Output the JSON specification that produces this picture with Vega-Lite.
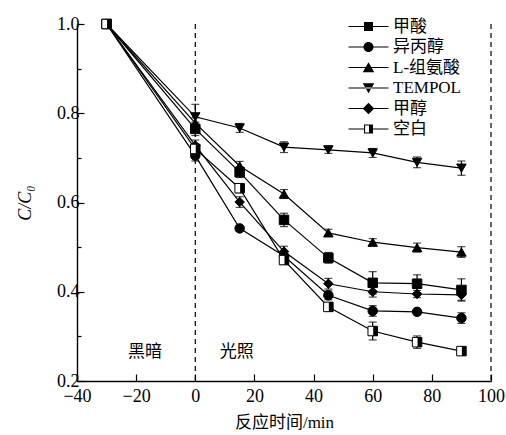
{
  "$schema": "https://vega.github.io/schema/vega-lite/v6.json",
  "width": 414,
  "height": 357,
  "autosize": "none",
  "padding": {"left": 77, "top": 24, "right": 15, "bottom": 54},
  "background": "white",
  "config": {
    "view": {"stroke": null},
    "font": "Liberation Serif, Noto Sans CJK SC",
    "axis": {"grid": false, "domainColor": "black", "domainWidth": 1.4, "tickColor": "black", "tickWidth": 1.2, "labelColor": "black", "titleColor": "black", "labelFont": "Liberation Serif", "labelFontSize": 18, "titleFont": "Liberation Serif, Noto Sans CJK SC", "titleFontWeight": "normal", "titleFontSize": 17}
  },
  "datasets": {
    "pts": [
      {"s": "甲酸", "t": -30, "v": 1.0, "e": 0.006},
      {"s": "甲酸", "t": 0, "v": 0.765, "e": 0.015},
      {"s": "甲酸", "t": 15, "v": 0.668, "e": 0.012},
      {"s": "甲酸", "t": 30, "v": 0.561, "e": 0.015},
      {"s": "甲酸", "t": 45, "v": 0.476, "e": 0.012},
      {"s": "甲酸", "t": 60, "v": 0.42, "e": 0.025},
      {"s": "甲酸", "t": 75, "v": 0.418, "e": 0.02},
      {"s": "甲酸", "t": 90, "v": 0.404, "e": 0.025},
      {"s": "异丙醇", "t": -30, "v": 1.0, "e": 0.006},
      {"s": "异丙醇", "t": 0, "v": 0.705, "e": 0.012},
      {"s": "异丙醇", "t": 15, "v": 0.542, "e": 0.006},
      {"s": "异丙醇", "t": 30, "v": 0.48, "e": 0.01},
      {"s": "异丙醇", "t": 45, "v": 0.392, "e": 0.01},
      {"s": "异丙醇", "t": 60, "v": 0.357, "e": 0.012},
      {"s": "异丙醇", "t": 75, "v": 0.355, "e": 0.006},
      {"s": "异丙醇", "t": 90, "v": 0.341, "e": 0.012},
      {"s": "L-组氨酸", "t": -30, "v": 1.0, "e": 0.006},
      {"s": "L-组氨酸", "t": 0, "v": 0.778, "e": 0.012},
      {"s": "L-组氨酸", "t": 15, "v": 0.682, "e": 0.01},
      {"s": "L-组氨酸", "t": 30, "v": 0.619, "e": 0.01},
      {"s": "L-组氨酸", "t": 45, "v": 0.532, "e": 0.008},
      {"s": "L-组氨酸", "t": 60, "v": 0.511, "e": 0.008},
      {"s": "L-组氨酸", "t": 75, "v": 0.499, "e": 0.01},
      {"s": "L-组氨酸", "t": 90, "v": 0.489, "e": 0.012},
      {"s": "TEMPOL", "t": -30, "v": 1.0, "e": 0.006},
      {"s": "TEMPOL", "t": 0, "v": 0.792, "e": 0.028},
      {"s": "TEMPOL", "t": 15, "v": 0.767, "e": 0.01},
      {"s": "TEMPOL", "t": 30, "v": 0.724, "e": 0.012},
      {"s": "TEMPOL", "t": 45, "v": 0.718, "e": 0.008},
      {"s": "TEMPOL", "t": 60, "v": 0.711, "e": 0.01},
      {"s": "TEMPOL", "t": 75, "v": 0.69, "e": 0.012},
      {"s": "TEMPOL", "t": 90, "v": 0.677, "e": 0.016},
      {"s": "甲醇", "t": -30, "v": 1.0, "e": 0.006},
      {"s": "甲醇", "t": 0, "v": 0.728, "e": 0.012},
      {"s": "甲醇", "t": 15, "v": 0.601, "e": 0.012},
      {"s": "甲醇", "t": 30, "v": 0.49, "e": 0.012},
      {"s": "甲醇", "t": 45, "v": 0.418, "e": 0.012},
      {"s": "甲醇", "t": 60, "v": 0.4, "e": 0.012},
      {"s": "甲醇", "t": 75, "v": 0.395, "e": 0.008},
      {"s": "甲醇", "t": 90, "v": 0.393, "e": 0.012},
      {"s": "空白", "t": -30, "v": 1.0, "e": 0.006},
      {"s": "空白", "t": 0, "v": 0.72, "e": 0.01},
      {"s": "空白", "t": 15, "v": 0.632, "e": 0.01},
      {"s": "空白", "t": 30, "v": 0.471, "e": 0.01},
      {"s": "空白", "t": 45, "v": 0.366, "e": 0.008},
      {"s": "空白", "t": 60, "v": 0.312, "e": 0.02},
      {"s": "空白", "t": 75, "v": 0.287, "e": 0.014},
      {"s": "空白", "t": 90, "v": 0.267, "e": 0.006}
    ],
    "notes": [
      {"t": -17, "v": 0.265, "label": "黑暗"},
      {"t": 14, "v": 0.265, "label": "光照"}
    ],
    "vlines": [{"t": 0}, {"t": 100}]
  },
  "resolve": {"scale": {"shape": "independent"}},
  "layer": [
    {
      "data": {"name": "vlines"},
      "mark": {"type": "rule", "color": "black", "strokeWidth": 1.2, "strokeDash": [5, 4]},
      "encoding": {
        "x": {"field": "t", "type": "quantitative", "scale": {"domain": [-40, 100], "nice": false},
          "axis": {"values": [-40, -30, -20, -10, 0, 10, 20, 30, 40, 50, 60, 70, 80, 90, 100],
            "labelExpr": "datum.value % 20 === 0 ? format(datum.value, 'd') : ''",
            "tickSize": {"condition": {"test": "datum.value % 20 === 0", "value": -7}, "value": -4},
            "labelPadding": 13, "labelFlush": false, "labelOverlap": false, "title": "反应时间/min", "titlePadding": 9}}
      }
    },
    {
      "data": {"name": "pts"},
      "mark": {"type": "line", "color": "black", "strokeWidth": 1.2},
      "encoding": {
        "x": {"field": "t", "type": "quantitative", "title": "反应时间/min"},
        "y": {"field": "v", "type": "quantitative", "title": "C/C₀", "scale": {"domain": [0.2, 1.0], "nice": false, "zero": false},
          "axis": {"values": [0.2, 0.3, 0.4, 0.5, 0.6, 0.7, 0.8, 0.9, 1.0],
            "labelExpr": "round(datum.value * 10) % 2 === 0 ? format(datum.value, '.1f') : ''",
            "tickSize": {"condition": {"test": "round(datum.value * 10) % 2 === 0", "value": -7}, "value": -4},
            "labelPadding": 5, "labelFlush": false, "labelOverlap": false, "title": "C/C₀", "titleFontStyle": "italic", "titleFontSize": 18, "titlePadding": 22}},
        "detail": {"field": "s"}
      }
    },
    {
      "data": {"name": "pts"},
      "mark": {"type": "errorbar", "color": "black", "thickness": 1.2, "ticks": {"size": 8, "color": "black", "thickness": 1.2}},
      "encoding": {
        "x": {"field": "t", "type": "quantitative", "title": "反应时间/min"},
        "y": {"field": "v", "type": "quantitative", "title": "C/C₀"},
        "yError": {"field": "e"},
        "detail": {"field": "s"}
      }
    },
    {
      "data": {"name": "pts"},
      "mark": {"type": "point", "filled": true, "stroke": "black", "strokeWidth": 1, "size": 90, "opacity": 1},
      "encoding": {
        "x": {"field": "t", "type": "quantitative", "title": "反应时间/min"},
        "y": {"field": "v", "type": "quantitative", "title": "C/C₀"},
        "shape": {"field": "s", "type": "nominal", "legend": null,
          "scale": {"domain": ["甲酸", "异丙醇", "L-组氨酸", "TEMPOL", "甲醇", "空白"],
            "range": ["square", "circle", "triangle-up", "triangle-down", "diamond", "square"]}},
        "fill": {"field": "s", "type": "nominal", "legend": null,
          "scale": {"domain": ["甲酸", "异丙醇", "L-组氨酸", "TEMPOL", "甲醇", "空白"],
            "range": ["black", "black", "black", "black", "black", "white"]}}
      }
    },
    {
      "data": {"name": "pts"},
      "transform": [{"filter": "datum.s === '空白'"}],
      "mark": {"type": "point", "filled": true, "color": "black", "size": 90, "opacity": 1, "shape": "M0.1,-1L1,-1L1,1L0.1,1Z"},
      "encoding": {
        "x": {"field": "t", "type": "quantitative", "title": "反应时间/min"},
        "y": {"field": "v", "type": "quantitative", "title": "C/C₀"}
      }
    },
    {
      "data": {"name": "pts"},
      "mark": {"type": "point", "filled": true, "fill": "black", "size": 100, "opacity": 0},
      "encoding": {
        "x": {"field": "t", "type": "quantitative", "title": "反应时间/min"},
        "y": {"field": "v", "type": "quantitative", "title": "C/C₀"},
        "shape": {"field": "s", "type": "nominal",
          "scale": {"domain": ["甲酸", "异丙醇", "L-组氨酸", "TEMPOL", "甲醇", "空白"],
            "range": [
              "M-4,-0.12L4,-0.12L4,0.12L-4,0.12ZM-0.9,-0.9L0.9,-0.9L0.9,0.9L-0.9,0.9Z",
              "M-4,-0.12L4,-0.12L4,0.12L-4,0.12ZM-1,0A1,1 0 1,1 1,0A1,1 0 1,1 -1,0Z",
              "M-4,-0.12L4,-0.12L4,0.12L-4,0.12ZM0,-1.05L1.15,0.95L-1.15,0.95Z",
              "M-4,-0.12L4,-0.12L4,0.12L-4,0.12ZM0,1.05L1.15,-0.95L-1.15,-0.95Z",
              "M-4,-0.12L4,-0.12L4,0.12L-4,0.12ZM0,-1.15L1.15,0L0,1.15L-1.15,0Z",
              "M-4,-0.12L-0.9,-0.12L-0.9,0.12L-4,0.12ZM0.9,-0.12L4,-0.12L4,0.12L0.9,0.12ZM-0.9,-0.9L0.9,-0.9L0.9,0.9L-0.9,0.9ZM-0.68,-0.68L-0.68,0.68L0.1,0.68L0.1,-0.68Z"
            ]},
          "legend": {"orient": "none", "legendX": 283, "legendY": -6, "title": null,
            "symbolSize": 100, "symbolOpacity": 1, "symbolFillColor": "black", "symbolStrokeColor": "black", "symbolStrokeWidth": 0,
            "labelFont": "Liberation Serif, Noto Sans CJK SC", "labelFontSize": 17, "labelColor": "black", "labelOffset": 16, "rowPadding": 2.5, "labelLimit": 200}}
      }
    },
    {
      "data": {"name": "notes"},
      "mark": {"type": "text", "fontSize": 17, "color": "black", "font": "Noto Sans CJK SC", "baseline": "middle", "align": "center"},
      "encoding": {
        "x": {"field": "t", "type": "quantitative"},
        "y": {"field": "v", "type": "quantitative"},
        "text": {"field": "label"}
      }
    }
  ]
}
